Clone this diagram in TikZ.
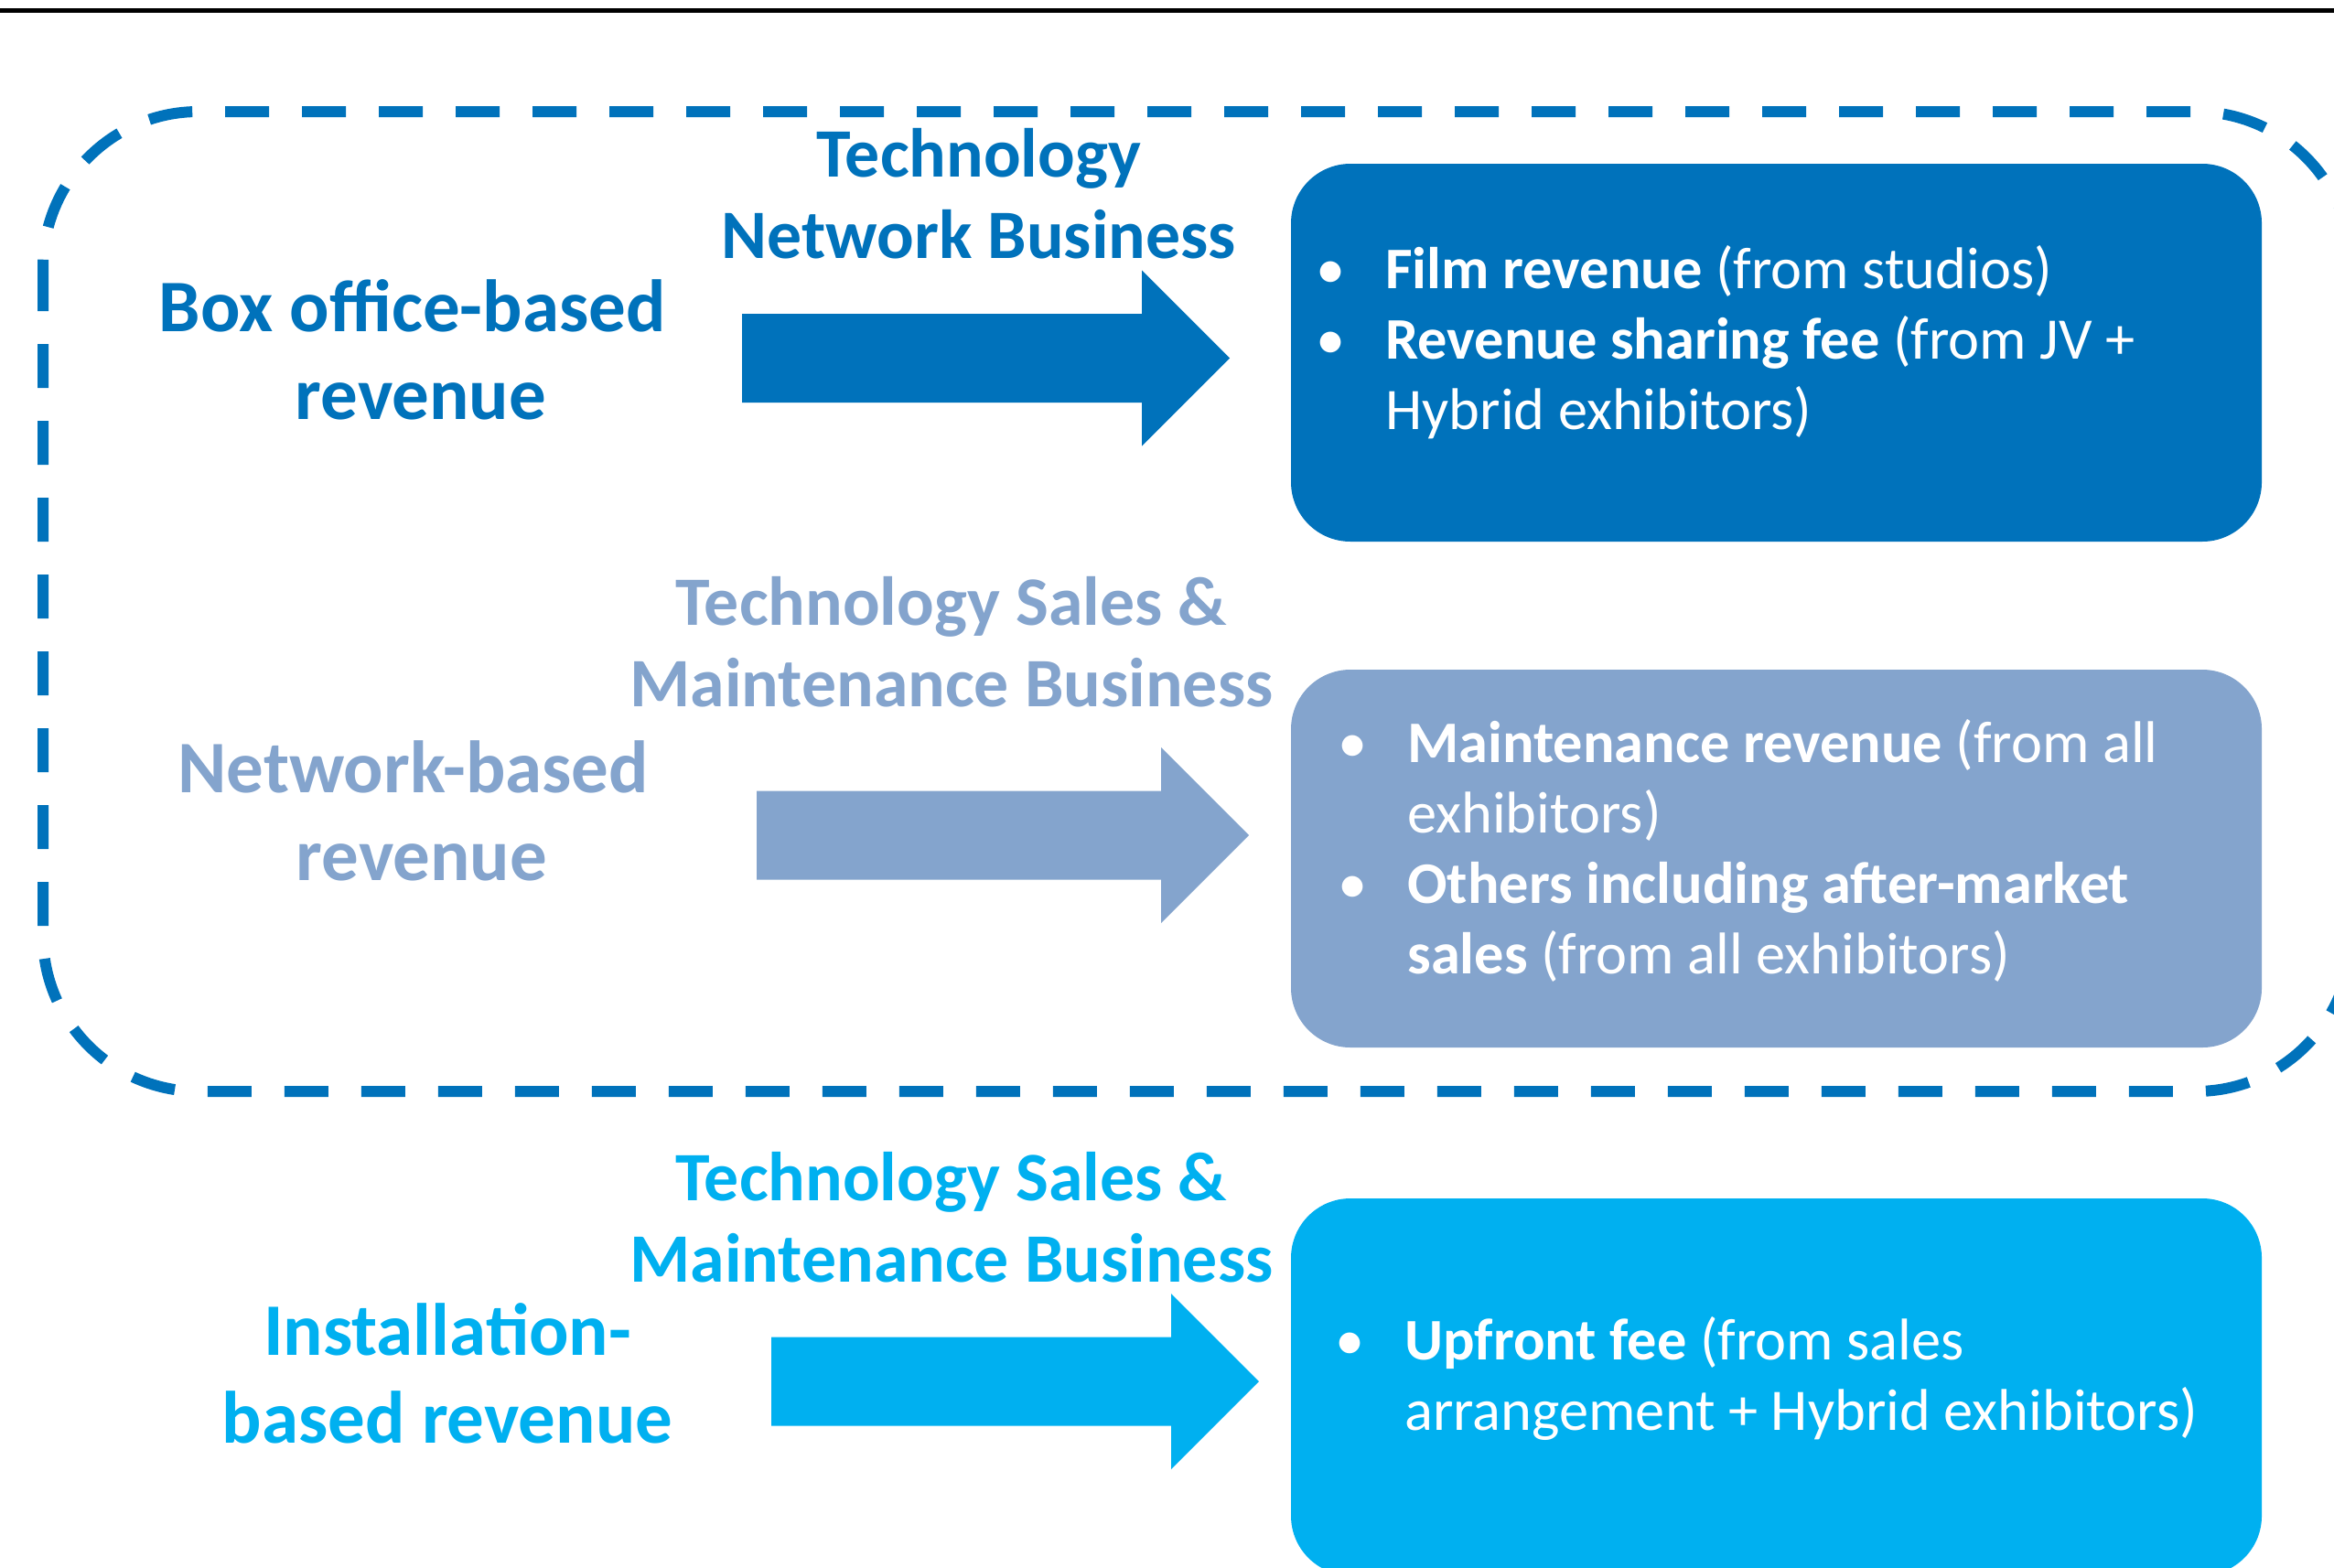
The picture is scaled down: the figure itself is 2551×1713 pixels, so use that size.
\documentclass[tikz,border=0pt]{standalone}
\usepackage{fontspec}
\setmainfont{Carlito}

\definecolor{bizblue}{RGB}{0,114,187}
\definecolor{bizgrey}{RGB}{132,164,205}
\definecolor{bizcyan}{RGB}{0,176,240}

\tikzset{
  streamlabel/.style={inner sep=0pt, anchor=north, font=\fontsize{40.5}{48}\selectfont\bfseries},
  bizlabel/.style={inner sep=0pt, anchor=north, font=\fontsize{37.9}{44.5}\selectfont\bfseries},
  revbox/.style={rounded corners=32.5pt},
  revlist/.style={inner sep=0pt, anchor=north west, text=white, font=\fontsize{32.2}{38.5}\selectfont},
}

% two centred lines, first baseline at 0.7\baselineskip below the top
\newcommand{\twolines}[2]{\begin{tabular}{@{}c@{}}#1\\#2\end{tabular}}
% keeps the word space at a line end when centring
\newcommand{\trailgap}{\hphantom{\ }}

\begin{document}
\begin{tikzpicture}[x=0.5pt,y=0.5pt,yscale=-1,xscale=1]
    \useasboundingbox (0,0) rectangle (2551,1713);
    \clip (0,0) rectangle (2551,1713);

    % revenue boxes
    \fill[revbox, bizblue] (1411,179) rectangle (2472,592);
    \fill[revbox, bizgrey] (1411,732) rectangle (2472,1145);
    \fill[revbox, bizcyan] (1411,1310) rectangle (2472,1722);

    % block arrows
    \foreach \xa/\xb/\xc/\yc/\col in {811/1248/1344/391.5/bizblue, 827/1269/1365/913/bizgrey, 843/1280/1376/1510/bizcyan}
        \fill[\col] (\xa,\yc-48.5) -- (\xb,\yc-48.5) -- (\xb,\yc-96) -- (\xc,\yc)
            -- (\xb,\yc+96) -- (\xb,\yc+48.5) -- (\xa,\yc+48.5) -- cycle;

    % revenue streams
    \node[streamlabel, text=bizblue] (boxoffice) at (460,294.8) {\twolines{Box office-based\trailgap}{revenue}};
    \node[streamlabel, text=bizgrey] (network) at (461,798.8) {\twolines{Network-based\trailgap}{revenue}};
    \node[streamlabel, text=bizcyan] (install) at (489,1413.8) {\twolines{Installation-}{based revenue}};

    % businesses
    \node[bizlabel, text=bizblue] (netbiz) at (1070,130.7) {\twolines{Technology}{Network Business}};
    \node[bizlabel, text=bizgrey] (salesbiz) at (1040,620.7) {\twolines{Technology Sales \&}{Maintenance Business}};
    \node[bizlabel, text=bizcyan] (installbiz) at (1040,1249.7) {\twolines{Technology Sales \&}{Maintenance Business}};

    % box contents
    \node[revlist] (filmlist) at (1438,261.1) {\begin{tabular}{@{}p{38pt}@{}l@{}}
        \textbullet & \textbf{Film revenue} (from studios)\\
        \textbullet & \textbf{Revenue sharing fee} (from JV +\\
                    & Hybrid exhibitors)
    \end{tabular}};
    \node[revlist] (maintlist) at (1462,779.1) {\begin{tabular}{@{}p{38pt}@{}l@{}}
        \textbullet & \textbf{Maintenance revenue} (from all\\
                    & exhibitors)\\
        \textbullet & \textbf{Others including after-market}\\
                    & \textbf{sales} (from all exhibitors)
    \end{tabular}};
    \node[revlist] (upfrontlist) at (1459,1432.1) {\begin{tabular}{@{}p{38pt}@{}l@{}}
        \textbullet & \textbf{Upfront fee} (from sales\\
                    & arrangement + Hybrid exhibitors)
    \end{tabular}};

    % recurring revenue frame
    \draw[bizblue, line width=6pt, dash pattern=on 24pt off 18pt, rounded corners=85pt]
        (47,122) rectangle (2570,1193);

    % rule along the top
    \fill[black] (0,9) rectangle (2551,14);
\end{tikzpicture}
\end{document}
